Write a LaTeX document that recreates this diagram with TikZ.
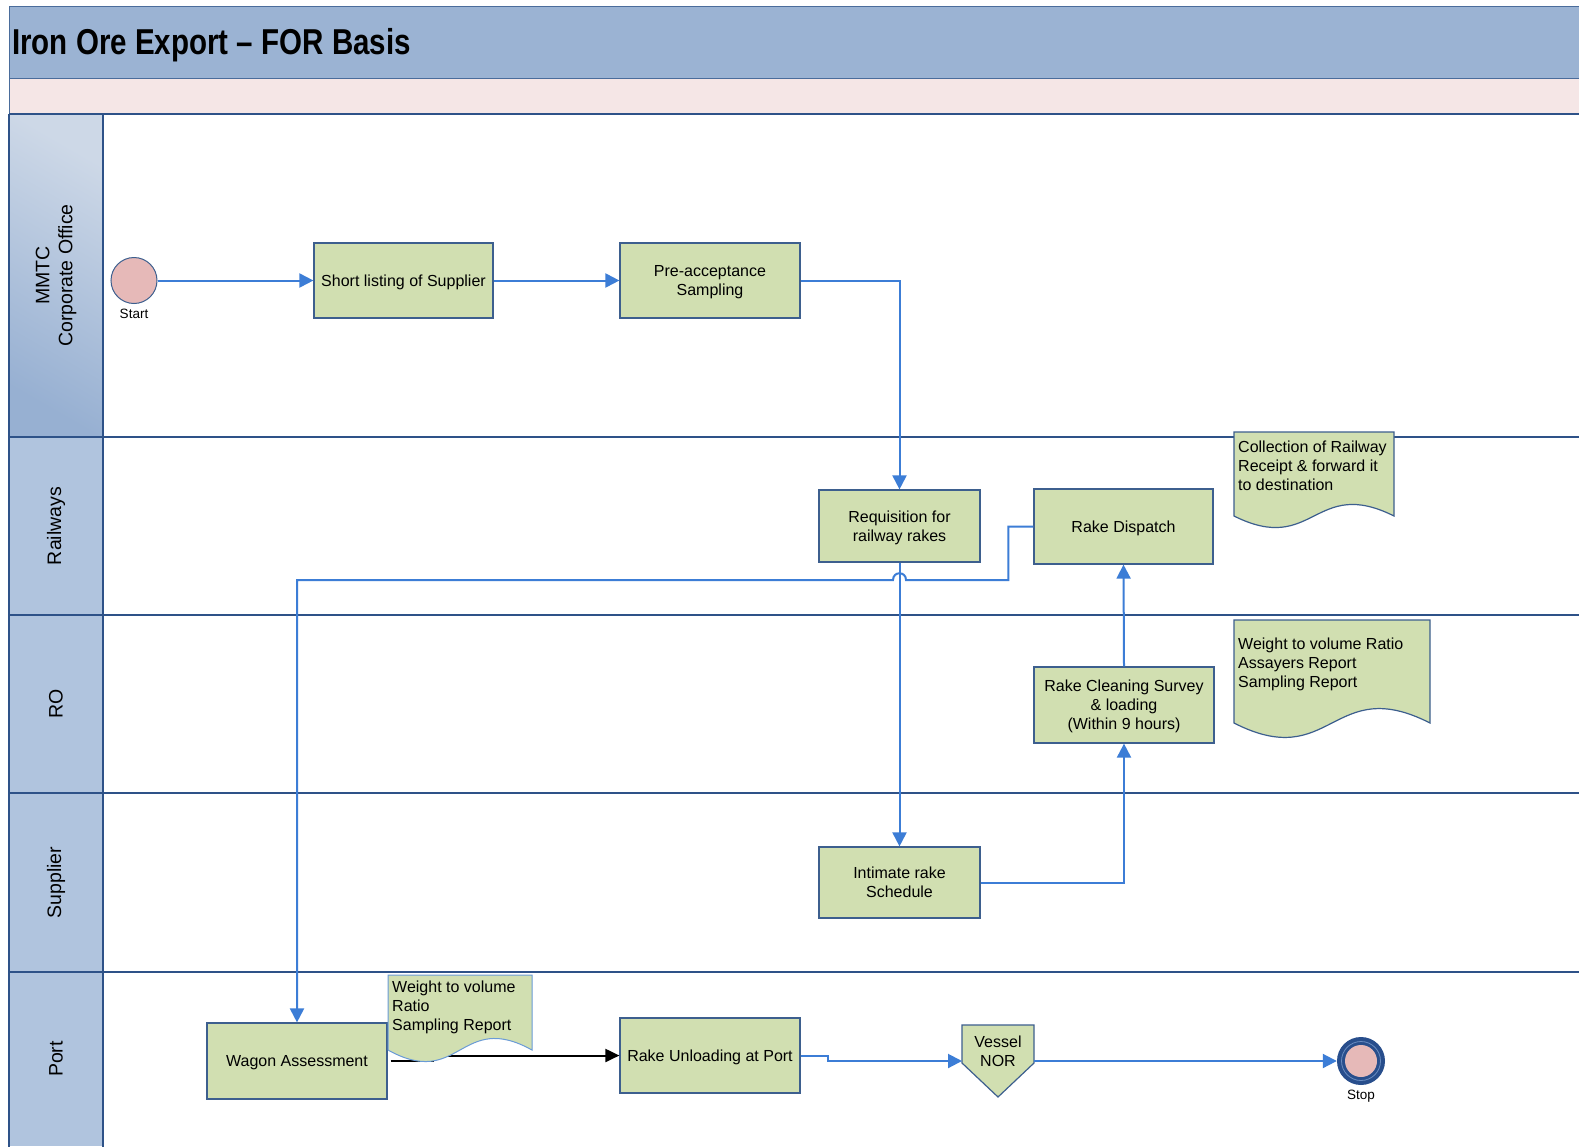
\documentclass[tikz,border=0pt]{standalone}
\usepackage{fontspec}
\setmainfont{Liberation Sans}
\newfontfamily\titlefont[FakeStretch=0.82]{Liberation Sans}
\usetikzlibrary{arrows.meta}

\definecolor{bandblue}{HTML}{9BB3D3}
\definecolor{bandedge}{HTML}{4A6C9B}
\definecolor{bandpink}{HTML}{F5E6E6}
\definecolor{lanecell}{HTML}{B0C4DE}
\definecolor{lanetop}{HTML}{CDD8E7}
\definecolor{lanebot}{HTML}{97B0D2}
\definecolor{laneline}{HTML}{2E5288}
\definecolor{boxfill}{HTML}{D1DFB1}
\definecolor{boxline}{HTML}{3D5F8E}
\definecolor{flowblue}{HTML}{3C7DD6}
\definecolor{docline}{HTML}{6A9BD6}
\definecolor{eventpink}{HTML}{E6B9B8}
\definecolor{stopblue}{HTML}{284E8C}
\definecolor{stopring}{HTML}{6A8CC0}

\begin{document}
\begin{tikzpicture}[x=1pt,y=-1pt,
  stepbox/.style={draw=boxline, fill=boxfill, line width=1.2pt, align=center,
    inner sep=0pt, text depth=0pt, font=\fontsize{16}{19}\selectfont},
  doctext/.style={anchor=north west, align=left, inner sep=0pt,
    font=\fontsize{16}{19}\selectfont},
  docshape/.style={draw=boxline, fill=boxfill, line width=1.2pt},
  lanelabel/.style={rotate=90, align=center, inner sep=0pt,
    font=\fontsize{19.5}{23}\selectfont},
  laneedge/.style={draw=laneline, line width=2.2pt},
  flow/.style={draw=flowblue, line width=2pt, -{Triangle[width=14pt,length=14pt]}},
  blackflow/.style={draw=black, line width=2pt, -{Triangle[width=13pt,length=14pt]}},
  eventlabel/.style={font=\fontsize{13.5}{16}\selectfont, inner sep=0pt}
]
\clip (0,0) rectangle (1579,1146);
\fill[white] (0,0) rectangle (1579,1146);

% title band and the pink strip below it
\fill[bandblue] (9,6) rectangle (1590,78);
\draw[bandedge, line width=1pt] (9,78) -- (9,6) -- (1590,6);
\fill[bandpink] (9,78) rectangle (1590,114);
\draw[bandedge, line width=1pt] (9,78) -- (1590,78);
\draw[bandedge, line width=0.8pt] (9,78) -- (9,114);
\node[anchor=base west, inner sep=0pt, font=\titlefont\bfseries\fontsize{36}{40}\selectfont]
  (title) at (12,54) {Iron Ore Export – FOR Basis};

% lane header cells
\shade[top color=lanetop, bottom color=lanebot, shading angle=-30] (9,114) rectangle (103,437);
\fill[lanecell] (9,437) rectangle (103,1146);

% lane separators
\foreach \yy in {114,437,615,793,972}
  \draw[laneedge] (9,\yy) -- (1590,\yy);
\draw[laneedge] (9,114) -- (9,1150);
\draw[laneedge] (103,114) -- (103,1150);

% lane names
\node[lanelabel] (laneA) at (56,275.5) {MMTC\\Corporate Office};
\node[lanelabel] (laneB) at (56,526) {Railways};
\node[lanelabel] (laneC) at (56,704) {RO};
\node[lanelabel] (laneD) at (56,882.5) {Supplier};
\node[lanelabel] (laneE) at (56,1059) {Port};

% start event
\node[circle, draw=boxline, fill=eventpink, line width=1pt, minimum size=46pt, inner sep=0pt]
  (start) at (134,280.5) {};
\node[eventlabel] (startlbl) at (134,314) {Start};

% process steps
\node[stepbox, minimum width=179pt, minimum height=75pt] (short) at (403.5,280.5)
  {Short listing of Supplier};
\node[stepbox, minimum width=180pt, minimum height=75pt] (pre) at (710,280.5)
  {Pre-acceptance\\Sampling};
\node[stepbox, minimum width=161pt, minimum height=72pt] (req) at (899.5,526)
  {Requisition for\\railway rakes};
\node[stepbox, minimum width=179pt, minimum height=75pt] (disp) at (1123.5,526.5)
  {Rake Dispatch};
\node[stepbox, minimum width=180pt, minimum height=76pt] (clean) at (1124,705)
  {Rake Cleaning Survey\\\& loading\\(Within 9 hours)};
\node[stepbox, minimum width=161pt, minimum height=71pt] (intim) at (899.5,882.5)
  {Intimate rake\\Schedule};
\node[stepbox, minimum width=180pt, minimum height=76pt] (wagon) at (297,1061)
  {Wagon Assessment};
\node[stepbox, minimum width=180pt, minimum height=75pt] (unload) at (710,1055.5)
  {Rake Unloading at Port};

% documents
\path[docshape] (1234,432) -- (1394,432) -- (1394,516)
  .. controls (1314,476) and (1314,556) .. (1234,516) -- cycle;
\node[doctext] (docA) at (1238,441) {Collection of Railway\\Receipt \& forward it\\to destination};

\path[docshape] (1234,620) -- (1430,620) -- (1430,723)
  .. controls (1332,673) and (1332,773) .. (1234,723) -- cycle;
\node[doctext] (docB) at (1238,638) {Weight to volume Ratio\\Assayers Report\\Sampling Report};

% connectors
\draw[flow] (start.east) -- (short.west);
\draw[flow] (short.east) -- (pre.west);
\draw[flow] (pre.east) -| (req.north);
\draw[flow] (req.south) -- (intim.north);
\draw[flow] (intim.east) -| (clean.south);
\draw[flow] (clean.north) -- (disp.south);
\coordinate (hopR) at (906,580);
\coordinate (hopL) at (893,580);
\draw[flow] (disp.west) -- ++(-25,0) |- (hopR)
  .. controls (906,571) and (893,571) .. (hopL) -| (wagon.north);

\draw[blackflow] ([xshift=3pt]wagon.east) -- ++(42,0) |- (unload.west);

% document placed over the wagon connector
\path[docshape, draw=docline, line width=1pt] (388,975) -- (532,975) -- (532,1050)
  .. controls (460,1010) and (460,1090) .. (388,1050) -- cycle;
\node[doctext] (docC) at (392,981) {Weight to volume\\Ratio\\Sampling Report};

% vessel notice of readiness
\path[docshape] (962,1025) -- (1034,1025) -- (1034,1063) -- (998,1097) -- (962,1063) -- cycle;
\node[align=center, inner sep=0pt, font=\fontsize{16}{19}\selectfont] (vessel) at (998,1051)
  {Vessel\\NOR};
\coordinate (vesW) at (962,1061);
\coordinate (vesE) at (1034,1061);

% stop event
\node[circle, fill=stopblue, minimum size=48pt, inner sep=0pt] (stop) at (1361,1061) {};
\draw[stopring, line width=0.8pt] (stop.center) circle[radius=19.5pt];
\fill[eventpink] (stop.center) circle[radius=16pt];
\node[eventlabel] (stoplbl) at (1361,1096) {Stop};

\draw[flow] (unload.east) -- ++(27,0) |- (vesW);
\draw[flow] (vesE) -- (stop.west);
\end{tikzpicture}
\end{document}
